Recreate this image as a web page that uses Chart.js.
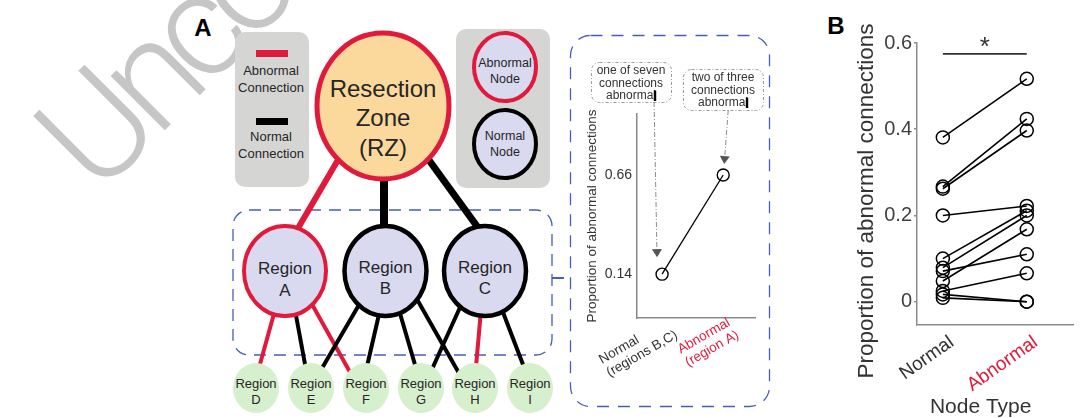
<!DOCTYPE html>
<html>
<head>
<meta charset="utf-8">
<script src="https://cdn.jsdelivr.net/npm/chart.js@4/dist/chart.umd.min.js"></script>
<style>
  html, body { margin: 0; padding: 0; background: #fff; }
  #wrap { position: relative; width: 1081px; height: 418px; overflow: hidden;
          font-family: "Liberation Sans", Arial, Helvetica, sans-serif; }
  svg { position: absolute; left: 0; top: 0; }
  .box { position: absolute; }
  text.lbl { font-family: "Liberation Sans", Arial, Helvetica, sans-serif; fill: #262626;
             text-anchor: middle; dominant-baseline: central; }
</style>
</head>
<body>
<div id="wrap">
  <!-- proof watermark -->
  <svg width="1081" height="418" xmlns="http://www.w3.org/2000/svg">
    <text transform="translate(98,197) rotate(-45)" font-size="145" font-weight="300" letter-spacing="-12"
          fill="#c6c6c6" font-family="Roboto, 'Liberation Sans', sans-serif">Uncorrected Proof</text>
  </svg>

  <svg id="diagram" width="1081" height="418" xmlns="http://www.w3.org/2000/svg">
    <text class="lbl" x="203" y="27" font-size="24" font-weight="bold" style="fill:#000">A</text>
    <text class="lbl" x="836" y="25" font-size="24" font-weight="bold" style="fill:#000">B</text>

    <!-- connection legend -->
    <rect x="235" y="32" width="74" height="155" rx="10" fill="#d5d5d3"/>
    <rect x="256" y="50" width="32" height="7" fill="#e01a3c"/>
    <text class="lbl" x="271" y="70" font-size="13">Abnormal</text>
    <text class="lbl" x="271" y="87" font-size="13">Connection</text>
    <rect x="256" y="118" width="32" height="7" fill="#000"/>
    <text class="lbl" x="271" y="136" font-size="13">Normal</text>
    <text class="lbl" x="271" y="153" font-size="13">Connection</text>

    <!-- node legend -->
    <rect x="456" y="29" width="94" height="159" rx="10" fill="#d5d5d3"/>
    <ellipse cx="505" cy="67" rx="31" ry="34" fill="#d9d9ef" stroke="#e01a3c" stroke-width="4"/>
    <text class="lbl" x="505" y="63" font-size="12.5">Abnormal</text>
    <text class="lbl" x="505" y="79" font-size="12.5">Node</text>
    <ellipse cx="505" cy="144" rx="31" ry="34" fill="#d9d9ef" stroke="#000" stroke-width="4"/>
    <text class="lbl" x="505" y="136" font-size="12.5">Normal</text>
    <text class="lbl" x="505" y="152" font-size="12.5">Node</text>

    <!-- dashed group around regions A-C and the inset frame -->
    <rect x="233" y="210" width="319" height="145" rx="16" fill="none" stroke="#4a5cb8" stroke-width="1.3" stroke-dasharray="12 8"/>
    <line x1="552" y1="278" x2="564" y2="278" stroke="#4a5cb8" stroke-width="2"/>
    <rect x="570.5" y="35.5" width="199" height="371" rx="20" fill="none" stroke="#4a5cb8" stroke-width="1.3" stroke-dasharray="12 9"/>

    <!-- resection zone links -->
    <line x1="359" y1="124" x2="287" y2="247" stroke="#e01a3c" stroke-width="6"/>
    <line x1="384" y1="170" x2="384" y2="240" stroke="#000" stroke-width="8"/>
    <line x1="418" y1="145" x2="487" y2="240" stroke="#000" stroke-width="7"/>

    <!-- region links -->
    <g stroke-width="4">
      <line x1="275" y1="310" x2="257" y2="375" stroke="#e01a3c"/>
      <line x1="295" y1="310" x2="307" y2="375" stroke="#000"/>
      <line x1="309" y1="299" x2="355" y2="381" stroke="#e01a3c"/>
      <line x1="363" y1="298" x2="318" y2="375" stroke="#000"/>
      <line x1="380" y1="310" x2="365" y2="375" stroke="#000"/>
      <line x1="399" y1="310" x2="418" y2="375" stroke="#000"/>
      <line x1="414" y1="294" x2="464" y2="382" stroke="#000"/>
      <line x1="462" y1="303" x2="428" y2="378" stroke="#000"/>
      <line x1="481" y1="310" x2="475" y2="378" stroke="#e01a3c"/>
      <line x1="501" y1="307" x2="527" y2="375" stroke="#000"/>
    </g>

    <!-- resection zone -->
    <ellipse cx="383" cy="106" rx="66" ry="73" fill="#fbd89c" stroke="#e01a3c" stroke-width="5"/>
    <text class="lbl" x="383" y="88" font-size="24">Resection</text>
    <text class="lbl" x="383" y="117" font-size="24">Zone</text>
    <text class="lbl" x="383" y="147" font-size="24">(RZ)</text>

    <!-- regions A-C -->
    <ellipse cx="285" cy="271" rx="41" ry="45" fill="#d9d9ef" stroke="#e01a3c" stroke-width="4"/>
    <text class="lbl" x="285" y="268" font-size="17">Region</text>
    <text class="lbl" x="285" y="290" font-size="17">A</text>
    <ellipse cx="385.5" cy="271" rx="41" ry="45" fill="#d9d9ef" stroke="#000" stroke-width="4.5"/>
    <text class="lbl" x="385.5" y="267" font-size="17">Region</text>
    <text class="lbl" x="385.5" y="288" font-size="17">B</text>
    <ellipse cx="485" cy="271" rx="41" ry="45" fill="#d9d9ef" stroke="#000" stroke-width="4.5"/>
    <text class="lbl" x="485" y="267" font-size="17">Region</text>
    <text class="lbl" x="485" y="288" font-size="17">C</text>

    <!-- regions D-I -->
    <g fill="#d6efcd">
      <ellipse cx="256" cy="388" rx="23" ry="25"/>
      <ellipse cx="311" cy="388" rx="23" ry="25"/>
      <ellipse cx="366" cy="388" rx="23" ry="25"/>
      <ellipse cx="421" cy="388" rx="23" ry="25"/>
      <ellipse cx="475" cy="388" rx="23" ry="25"/>
      <ellipse cx="530" cy="388" rx="23" ry="25"/>
    </g>
    <g font-size="13">
      <text class="lbl" x="256" y="383">Region</text><text class="lbl" x="256" y="399">D</text>
      <text class="lbl" x="311" y="383">Region</text><text class="lbl" x="311" y="399">E</text>
      <text class="lbl" x="366" y="383">Region</text><text class="lbl" x="366" y="399">F</text>
      <text class="lbl" x="421" y="383">Region</text><text class="lbl" x="421" y="399">G</text>
      <text class="lbl" x="475" y="383">Region</text><text class="lbl" x="475" y="399">H</text>
      <text class="lbl" x="530" y="383">Region</text><text class="lbl" x="530" y="399">I</text>
    </g>
  </svg>

  <div class="box" style="left:571px;top:35px;width:199px;height:372px"><canvas id="inset"></canvas></div>
  <div class="box" style="left:820px;top:0px;width:261px;height:418px"><canvas id="chartB"></canvas></div>
</div>

<script>
// ---- inset: one worked example ----
const insetCategories = [['Normal', '(regions B,C)'], ['Abnormal', '(region A)']];
const insetValues = [0.14, 0.66];
const insetTicks = [0.14, 0.66];
const insetNotes = [['one of seven', 'connections', 'abnormal'], ['two of three', 'connections', 'abnormal']];

// ---- panel B: per-patient proportions ----
const nodeTypes = ['Normal', 'Abnormal'];
const normalProp   = [0.381, 0.267, 0.262, 0.200, 0.100, 0.079, 0.048, 0.071, 0.025, 0.017, 0.009];
const abnormalProp = [0.517, 0.424, 0.397, 0.222, 0.211, 0.200, 0.168, 0.110, 0.066, 0.000, 0.000];
const bTicks = [0, 0.2, 0.4, 0.6];
const sigBarLevel = 0.575;

const RED = '#e01a3c';
const FONT = '"Liberation Sans", Arial, Helvetica, sans-serif';
Chart.defaults.font.family = FONT;
Chart.defaults.animation = false;

function drawRotatedBlock(ctx, lines, x, y, deg, lh, color, font) {
  ctx.save();
  ctx.translate(x, y);
  ctx.rotate(-deg * Math.PI / 180);
  ctx.font = font;
  ctx.fillStyle = color;
  const W = Math.max(...lines.map(l => ctx.measureText(l).width));
  ctx.textAlign = 'left';
  ctx.textBaseline = 'middle';
  lines.forEach((l, k) => ctx.fillText(l, -W, k * lh));
  ctx.restore();
}

function roundRect(ctx, x, y, w, h, r) {
  ctx.beginPath();
  ctx.moveTo(x + r, y);
  ctx.arcTo(x + w, y, x + w, y + h, r);
  ctx.arcTo(x + w, y + h, x, y + h, r);
  ctx.arcTo(x, y + h, x, y, r);
  ctx.arcTo(x, y, x + w, y, r);
  ctx.closePath();
}

function arrow(ctx, x0, y0, x1, y1) {
  ctx.save();
  ctx.strokeStyle = '#8a8a8a';
  ctx.lineWidth = 1;
  ctx.setLineDash([5, 2, 1, 2]);
  const ang = Math.atan2(y1 - y0, x1 - x0);
  const hx = x1 - 8 * Math.cos(ang), hy = y1 - 8 * Math.sin(ang);
  ctx.beginPath(); ctx.moveTo(x0, y0); ctx.lineTo(hx, hy); ctx.stroke();
  ctx.setLineDash([]);
  ctx.fillStyle = '#555';
  ctx.beginPath();
  ctx.moveTo(x1, y1);
  ctx.lineTo(hx + 5 * Math.sin(ang), hy - 5 * Math.cos(ang));
  ctx.lineTo(hx - 5 * Math.sin(ang), hy + 5 * Math.cos(ang));
  ctx.closePath(); ctx.fill();
  ctx.restore();
}

const insetDecor = {
  id: 'insetDecor',
  afterDraw(chart) {
    const ctx = chart.ctx, xs = chart.scales.x, ys = chart.scales.y;
    const ca = chart.chartArea;
    // category labels under the axis
    insetCategories.forEach((lines, i) => {
      const px = xs.getPixelForValue(i + 1);
      drawRotatedBlock(ctx, lines, px + 7, ca.bottom + 3, 30, 15, i === 1 ? RED : '#333', '13.5px ' + FONT);
    });
    // callout boxes
    const boxes = [{x: 20, y: 27, w: 80, h: 40}, {x: 112, y: 34, w: 80, h: 41}];
    ctx.save();
    ctx.font = '12px ' + FONT;
    ctx.textAlign = 'center';
    ctx.textBaseline = 'middle';
    boxes.forEach((b, i) => {
      ctx.save();
      ctx.strokeStyle = '#9a9a9a'; ctx.lineWidth = 1; ctx.setLineDash([3, 2, 1, 2]);
      roundRect(ctx, b.x + 0.5, b.y + 0.5, b.w, b.h, 8); ctx.stroke();
      ctx.restore();
      ctx.fillStyle = '#333';
      const cx = b.x + b.w / 2;
      insetNotes[i].forEach((t, k) => ctx.fillText(t, cx, b.y + 9 + k * 12.5));
      // heavy trailing stroke on the last word
      const last = insetNotes[i][insetNotes[i].length - 1];
      const w = ctx.measureText(last).width;
      const ly = b.y + 9 + (insetNotes[i].length - 1) * 12.5;
      ctx.fillStyle = '#000';
      ctx.fillRect(cx + w / 2 - 2.2, ly - 5.5, 2.4, 10.5);
    });
    ctx.restore();
    const p0x = xs.getPixelForValue(1), p0y = ys.getPixelForValue(insetValues[0]);
    const p1x = xs.getPixelForValue(2), p1y = ys.getPixelForValue(insetValues[1]);
    arrow(ctx, p0x - 8, boxes[0].y + boxes[0].h, p0x - 5, p0y - 17);
    arrow(ctx, p1x + 5, boxes[1].y + boxes[1].h, p1x + 1, p1y - 11);
  }
};

new Chart(document.getElementById('inset'), {
  type: 'scatter',
  data: {
    datasets: [{
      data: insetValues.map((v, i) => ({x: i + 1, y: v})),
      showLine: true,
      borderColor: '#000', borderWidth: 1.3,
      pointRadius: 6, pointBorderWidth: 1.4, pointBorderColor: '#000',
      pointBackgroundColor: 'rgba(255,255,255,0)'
    }]
  },
  options: {
    responsive: true, maintainAspectRatio: false,
    layout: {padding: {left: 0, right: 15, top: 79, bottom: 0}},
    plugins: {legend: {display: false}, tooltip: {enabled: false}},
    scales: {
      x: {
        type: 'linear', min: 0.59, max: 2.52,
        ticks: {display: false},
        grid: {display: false, drawTicks: false},
        border: {color: '#8a8a8a', width: 1.5},
        afterFit: s => { s.height = 89; }
      },
      y: {
        min: -0.09, max: 0.98,
        afterBuildTicks: s => { s.ticks = insetTicks.map(v => ({value: v})); },
        ticks: {font: {size: 14}, color: '#333', padding: 5, callback: v => v.toFixed(2)},
        grid: {display: false, drawTicks: false},
        border: {color: '#8a8a8a', width: 1.5},
        title: {display: true, text: 'Proportion of abnormal connections', color: '#333',
                font: {size: 13.5}, padding: {top: 13, bottom: 0}},
        afterFit: s => { s.width = 66; }
      }
    }
  },
  plugins: [insetDecor]
});

const panelBDecor = {
  id: 'panelBDecor',
  afterDraw(chart) {
    const ctx = chart.ctx, xs = chart.scales.x, ys = chart.scales.y;
    const ca = chart.chartArea;
    nodeTypes.forEach((t, i) => {
      const px = xs.getPixelForValue(i + 1);
      ctx.save();
      ctx.translate(px + 9, ca.bottom + 15.5);
      ctx.rotate(-35 * Math.PI / 180);
      ctx.font = '19px ' + FONT;
      ctx.fillStyle = i === 1 ? RED : '#333';
      ctx.textAlign = 'right'; ctx.textBaseline = 'middle';
      ctx.fillText(t, 0, 0);
      ctx.restore();
    });
    ctx.save();
    ctx.fillStyle = '#333';
    ctx.font = '21px ' + FONT;
    ctx.textAlign = 'center'; ctx.textBaseline = 'middle';
    ctx.fillText('Node Type', 160.7, 407);
    ctx.font = '22.5px ' + FONT;
    ctx.translate(47, 201);
    ctx.rotate(-Math.PI / 2);
    ctx.fillText('Proportion of abnormal connections', 0, 0);
    ctx.restore();
    const mid = (xs.getPixelForValue(1) + xs.getPixelForValue(2)) / 2;
    ctx.save();
    ctx.fillStyle = '#333';
    ctx.font = '26px ' + FONT;
    ctx.textAlign = 'center'; ctx.textBaseline = 'middle';
    ctx.fillText('*', mid, ys.getPixelForValue(sigBarLevel) - 6);
    ctx.restore();
  }
};

const pairSets = normalProp.map((n, i) => ({
  data: [{x: 1, y: n}, {x: 2, y: abnormalProp[i]}],
  showLine: true,
  borderColor: '#000', borderWidth: 1.6,
  pointRadius: 6.5, pointBorderWidth: 1.5, pointBorderColor: '#000',
  pointBackgroundColor: 'rgba(255,255,255,0)',
  clip: false
}));
pairSets.push({
  data: [{x: 1, y: sigBarLevel}, {x: 2, y: sigBarLevel}],
  showLine: true, borderColor: '#333', borderWidth: 1.8, pointRadius: 0, clip: false
});

new Chart(document.getElementById('chartB'), {
  type: 'scatter',
  data: {datasets: pairSets},
  options: {
    responsive: true, maintainAspectRatio: false,
    layout: {padding: {left: 0, right: 1, top: 43, bottom: 0}},
    plugins: {legend: {display: false}, tooltip: {enabled: false}},
    scales: {
      x: {
        type: 'linear', min: 0.692, max: 2.551,
        ticks: {display: false},
        grid: {display: false, drawTicks: false},
        border: {color: '#8c8c8c', width: 1.5},
        afterFit: s => { s.height = 93; }
      },
      y: {
        min: -0.054, max: 0.6,
        afterBuildTicks: s => { s.ticks = bTicks.map(v => ({value: v})); },
        ticks: {font: {size: 20}, color: '#404040', padding: 2,
                callback: v => (v === 0 ? '0' : v.toFixed(1))},
        grid: {display: true, drawOnChartArea: false, drawTicks: true, tickLength: 3,
               color: '#8c8c8c', lineWidth: 1.5},
        border: {color: '#8c8c8c', width: 1.5},
        afterFit: s => { s.width = 97; }
      }
    }
  },
  plugins: [panelBDecor]
});
</script>
</body>
</html>
